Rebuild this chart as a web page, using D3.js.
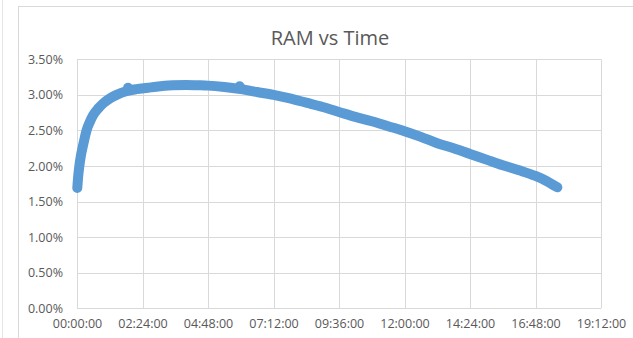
<!DOCTYPE html>
<html>
<head>
<meta charset="utf-8">
<script src="https://cdn.jsdelivr.net/npm/d3@7"></script>
<style>
  html, body { margin: 0; padding: 0; background: #fff; }
  svg { display: block; font-family: "Open Sans", sans-serif; }
</style>
</head>
<body>
<div id="chart"></div>
<script>
// RAM usage over time (hours, percent)
const hours = [0.01, 0.04, 0.085, 0.14, 0.21, 0.28, 0.35, 0.47, 0.6, 0.78, 0.96, 1.2, 1.45, 1.8, 2.18,
  2.6, 2.9, 3.5, 4.0, 4.5, 4.8, 5.4, 6.0, 6.6, 7.2, 7.8, 8.4, 9.0, 9.6, 10.2, 10.8, 11.4,
  12.0, 12.6, 13.2, 13.8, 14.4, 15.0, 15.6, 16.2, 16.8, 17.2, 17.6];
const ram = [1.69, 1.84, 2.00, 2.14, 2.27, 2.39, 2.50, 2.62, 2.72, 2.81, 2.88, 2.95, 3.00, 3.05, 3.08,
  3.10, 3.115, 3.135, 3.14, 3.135, 3.13, 3.11, 3.08, 3.04, 3.00, 2.95, 2.89, 2.83, 2.76, 2.69, 2.63, 2.56,
  2.49, 2.41, 2.32, 2.25, 2.17, 2.09, 2.01, 1.94, 1.86, 1.79, 1.70];

// a couple of stray markers sitting just above the band
const strayHours = [1.87, 5.96];
const strayRam = [3.10, 3.12];

const xTicks = [0, 2.4, 4.8, 7.2, 9.6, 12, 14.4, 16.8, 19.2];
const yTicks = [0, 0.5, 1, 1.5, 2, 2.5, 3, 3.5];

const W = 633, H = 338;
const plot = { left: 77, right: 601, top: 59.3, bottom: 308.3 };
const BLUE = '#5B9BD5', GRID = '#D9D9D9', TEXT = '#595959';

const svg = d3.select('#chart').append('svg')
  .attr('width', W).attr('height', H);

// outer frame (spreadsheet chart box)
svg.append('line')
  .attr('x1', 2.5).attr('x2', 2.5).attr('y1', 0).attr('y2', H)
  .attr('stroke', '#e6e6e6');
svg.append('rect')
  .attr('x', 18.5).attr('y', 6.5).attr('width', W).attr('height', H)
  .attr('fill', '#fff').attr('stroke', GRID);

svg.append('text')
  .attr('x', 330).attr('y', 44.5)
  .attr('text-anchor', 'middle')
  .attr('font-size', 20).attr('fill', TEXT)
  .text('RAM vs Time');

const x = d3.scaleLinear().domain([0, 19.2]).range([plot.left, plot.right]);
const y = d3.scaleLinear().domain([0, 3.5]).range([plot.bottom, plot.top]);

const fmtTime = h => {
  const mins = Math.round(h * 60);
  return `${String(Math.floor(mins / 60)).padStart(2, '0')}:${String(mins % 60).padStart(2, '0')}:00`;
};

// gridlines
svg.append('g').selectAll('line').data(yTicks).join('line')
  .attr('x1', plot.left).attr('x2', plot.right)
  .attr('y1', d => Math.round(y(d)) + 0.5).attr('y2', d => Math.round(y(d)) + 0.5)
  .attr('stroke', GRID);
svg.append('g').selectAll('line').data(xTicks).join('line')
  .attr('y1', plot.top).attr('y2', plot.bottom)
  .attr('x1', d => Math.round(x(d)) + 0.5).attr('x2', d => Math.round(x(d)) + 0.5)
  .attr('stroke', GRID);

// axes (labels only, lines drawn as grid)
const yAxis = svg.append('g')
  .attr('transform', `translate(${plot.left - 14},0)`)
  .call(d3.axisLeft(y).tickValues(yTicks).tickSize(0).tickPadding(0)
    .tickFormat(d => d.toFixed(2) + '%'));
const xAxis = svg.append('g')
  .attr('transform', `translate(0,${plot.bottom + 9})`)
  .call(d3.axisBottom(x).tickValues(xTicks).tickSize(0).tickPadding(2)
    .tickFormat(fmtTime));

[yAxis, xAxis].forEach(ax => {
  ax.select('.domain').remove();
  ax.selectAll('text')
    .attr('font-family', '"Open Sans", sans-serif')
    .attr('font-size', 12.5)
    .attr('fill', TEXT);
});

// dense markers rendered as a thick band
const points = hours.map((h, i) => [h, ram[i]]);
const line = d3.line()
  .x(d => x(d[0])).y(d => y(d[1]))
  .curve(d3.curveMonotoneX);

svg.append('path')
  .datum(points)
  .attr('d', line)
  .attr('fill', 'none')
  .attr('stroke', BLUE)
  .attr('stroke-width', 10)
  .attr('stroke-linecap', 'round')
  .attr('stroke-linejoin', 'round');

svg.append('g').selectAll('circle')
  .data(strayHours.map((h, i) => [h, strayRam[i]]))
  .join('circle')
  .attr('cx', d => x(d[0])).attr('cy', d => y(d[1]))
  .attr('r', 5)
  .attr('fill', BLUE);
</script>
</body>
</html>
